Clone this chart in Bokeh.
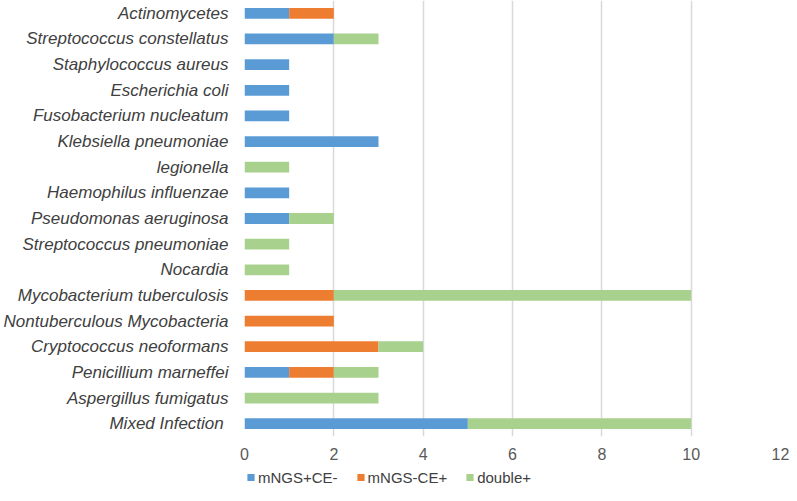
from bokeh.plotting import figure
from bokeh.layouts import column
from bokeh.models import Range1d, FactorRange, Legend, LegendItem, FixedTicker
from bokeh.embed import file_html
from bokeh.resources import INLINE

categories = [
    "Actinomycetes", "Streptococcus constellatus", "Staphylococcus aureus",
    "Escherichia coli", "Fusobacterium nucleatum", "Klebsiella pneumoniae",
    "legionella", "Haemophilus influenzae", "Pseudomonas aeruginosa",
    "Streptococcus pneumoniae", "Nocardia", "Mycobacterium tuberculosis",
    "Nontuberculous Mycobacteria", "Cryptococcus neoformans",
    "Penicillium marneffei", "Aspergillus fumigatus", "Mixed Infection ",
]
mngs_pos_ce_neg = [1, 2, 1, 1, 1, 3, 0, 1, 1, 0, 0, 0, 0, 0, 1, 0, 5]
mngs_neg_ce_pos = [1, 0, 0, 0, 0, 0, 0, 0, 0, 0, 0, 2, 2, 3, 1, 0, 0]
double_pos      = [0, 1, 0, 0, 0, 0, 1, 0, 1, 1, 1, 8, 0, 1, 1, 3, 5]
series_names = ["mNGS+CE-", "mNGS-CE+", "double+"]
x_ticks = [0, 2, 4, 6, 8, 10, 12]

colors = ["#5B9BD5", "#ED7D31", "#A9D18E"]

data = {"cat": categories, "a": mngs_pos_ce_neg, "b": mngs_neg_ce_pos, "c": double_pos}

p = figure(frame_width=536, frame_height=436, output_backend="svg", toolbar_location=None,
           y_range=FactorRange(factors=list(reversed(categories)), range_padding=0),
           x_range=Range1d(0, 12))
p.min_border_left = 235
p.min_border_right = 10
p.min_border_top = 0
p.min_border_bottom = 0
p.outline_line_color = None
p.background_fill_color = "white"

rs = p.hbar_stack(["a", "b", "c"], y="cat", height=0.42, color=colors,
                  line_color=None, source=data)

p.xaxis.ticker = FixedTicker(ticks=x_ticks)
p.xaxis.axis_line_color = None
p.xaxis.major_tick_line_color = None
p.xaxis.minor_tick_line_color = None
p.xaxis.major_label_text_font = "Liberation Sans"
p.xaxis.major_label_text_font_size = "16px"
p.xaxis.major_label_text_color = "#595959"
p.xaxis.major_label_standoff = 5

p.yaxis.axis_line_color = None
p.yaxis.major_tick_line_color = None
p.yaxis.minor_tick_line_color = None
p.yaxis.major_label_text_font = "Liberation Sans"
p.yaxis.major_label_text_font_style = "italic"
p.yaxis.major_label_text_font_size = "17px"
p.yaxis.major_label_text_color = "#404040"
p.yaxis.major_label_standoff = 10

p.ygrid.grid_line_color = None
p.xgrid.grid_line_color = "#D9D9D9"
p.xgrid.grid_line_width = 1.5

# legend strip below the chart (legend-only renderers sit outside the strip's visible range)
lg = figure(frame_width=536, frame_height=30, output_backend="svg", toolbar_location=None,
            x_range=Range1d(0, 1), y_range=Range1d(0, 1),
            x_axis_location=None, y_axis_location=None)
lg.min_border_left = 235
lg.min_border_right = 10
lg.min_border_top = 0
lg.min_border_bottom = 0
lg.outline_line_color = None
lg.grid.visible = False
lrs = [lg.hbar(y=[-5], left=[0], right=[0], height=0.5, color=c, line_color=None)
       for c in colors]

legend = Legend(items=[LegendItem(label=n, renderers=[r]) for n, r in zip(series_names, lrs)],
                orientation="horizontal", location="left")
legend.label_text_font = "Liberation Sans"
legend.label_text_font_size = "15px"
legend.label_text_color = "#404040"
legend.glyph_width = 9
legend.glyph_height = 9
legend.label_height = 16
legend.label_standoff = 3
legend.spacing = 18
legend.padding = 0
legend.margin = 2
legend.border_line_color = None
legend.background_fill_alpha = 0
lg.add_layout(legend, "center")

open("out.html", "w").write(file_html(column(p, lg, spacing=0), INLINE))
